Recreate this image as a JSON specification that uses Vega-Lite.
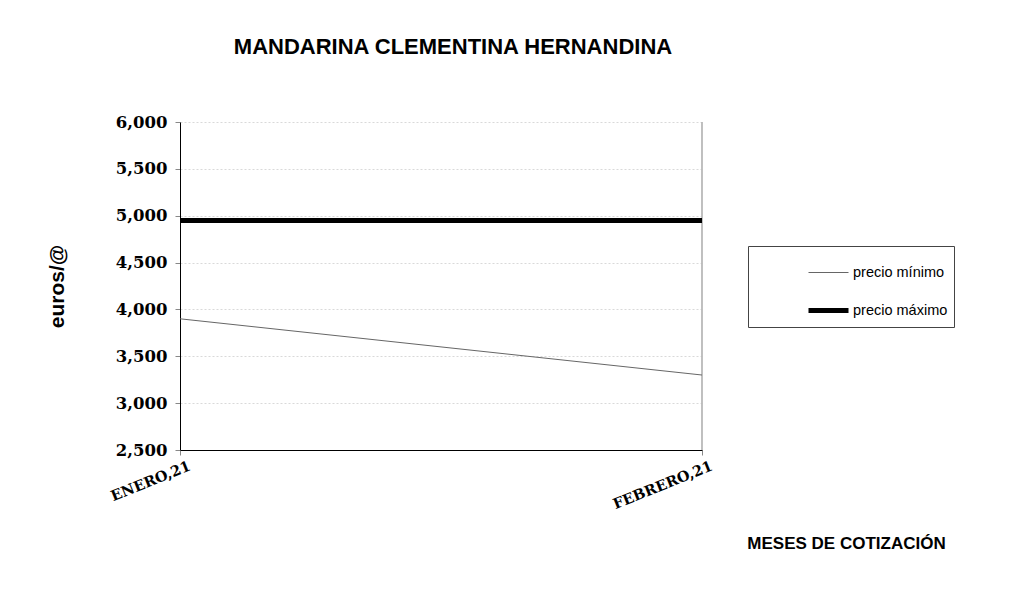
{
  "$schema": "https://vega.github.io/schema/vega-lite/v6.json",
  "width": 522,
  "height": 328,
  "autosize": {"type": "none"},
  "padding": {"left": 180, "top": 122, "right": 311, "bottom": 143},
  "background": "white",
  "title": {
    "text": "MANDARINA CLEMENTINA HERNANDINA",
    "font": "Liberation Sans",
    "fontSize": 22,
    "fontWeight": "bold",
    "color": "black",
    "anchor": "middle",
    "dx": 12,
    "offset": 55
  },
  "data": {
    "values": [
      {"mes": "ENERO,21", "serie": "precio mínimo", "valor": 3.9},
      {"mes": "FEBRERO,21", "serie": "precio mínimo", "valor": 3.3},
      {"mes": "ENERO,21", "serie": "precio máximo", "valor": 4.95},
      {"mes": "FEBRERO,21", "serie": "precio máximo", "valor": 4.95}
    ]
  },
  "layer": [
    {
      "mark": {"type": "rule", "color": "#bbbbbb", "strokeWidth": 1},
      "encoding": {
        "x": {"datum": "FEBRERO,21", "type": "nominal"}
      }
    },
    {
      "mark": {"type": "line"},
      "encoding": {
        "x": {
          "field": "mes",
          "type": "nominal",
          "sort": ["ENERO,21", "FEBRERO,21"],
          "scale": {"type": "point", "padding": 0},
          "axis": {
            "title": "MESES DE COTIZACIÓN",
            "titleFont": "Liberation Sans",
            "titleFontSize": 17,
            "titleFontWeight": "bold",
            "titleColor": "black",
            "titleX": 666,
            "titleY": 93,
            "titleAlign": "center",
            "titleBaseline": "middle",
            "labelAngle": -22,
            "labelAlign": "right",
            "labelBaseline": "top",
            "labelFont": "DejaVu Serif",
            "labelFontWeight": "bold",
            "labelFontSize": 14.5,
            "labelColor": "black",
            "labelPadding": 4,
            "labelOffset": 7,
            "domainColor": "black",
            "tickColor": "#888888",
            "tickSize": 5,
            "grid": false
          }
        },
        "y": {
          "field": "valor",
          "type": "quantitative",
          "scale": {"domain": [2.5, 6], "nice": false, "zero": false},
          "axis": {
            "title": "euros/@",
            "titleFont": "Liberation Sans",
            "titleFontSize": 21,
            "titleFontWeight": "bold",
            "titleColor": "black",
            "titlePadding": 48,
            "values": [2.5, 3, 3.5, 4, 4.5, 5, 5.5, 6],
            "labelExpr": "replace(format(datum.value, ',.3f'), '.', ',')",
            "labelFont": "DejaVu Serif",
            "labelFontWeight": "bold",
            "labelFontSize": 16.5,
            "labelColor": "black",
            "labelPadding": 8,
            "domainColor": "black",
            "tickColor": "#888888",
            "tickSize": 5,
            "grid": true,
            "gridColor": "#d9d9d9",
            "gridDash": [2, 2]
          }
        },
        "color": {
          "field": "serie",
          "type": "nominal",
          "scale": {"domain": ["precio mínimo", "precio máximo"], "range": ["#666666", "black"]},
          "legend": {
            "title": null,
            "orient": "none",
            "legendX": 568,
            "legendY": 124,
            "strokeColor": "#444444",
            "padding": 6,
            "symbolType": "stroke",
            "symbolSize": 1600,
            "symbolOffset": 52,
            "labelFont": "Liberation Sans",
            "labelFontSize": 14.5,
            "labelColor": "black",
            "labelOffset": 2,
            "rowPadding": 9
          }
        },
        "strokeWidth": {
          "field": "serie",
          "type": "nominal",
          "scale": {"domain": ["precio mínimo", "precio máximo"], "range": [1, 5]},
          "legend": null
        }
      }
    }
  ],
  "config": {
    "view": {"stroke": null}
  }
}
